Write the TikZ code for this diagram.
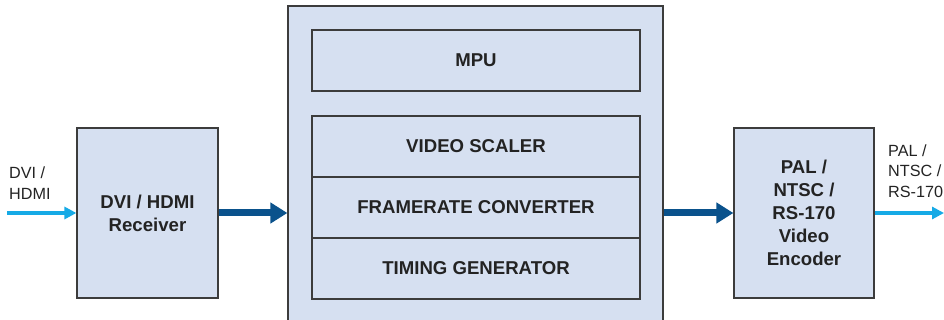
\documentclass[tikz,border=0pt]{standalone}
\usepackage{fontspec}
\setmainfont{Liberation Sans}
\usetikzlibrary{arrows.meta}

\definecolor{boxfill}{RGB}{214,224,241}
\definecolor{boxline}{RGB}{60,60,60}
\definecolor{darkarrow}{RGB}{10,82,140}
\definecolor{lightarrow}{RGB}{22,170,230}
\definecolor{txt}{RGB}{35,35,35}

\tikzset{
  blk/.style={draw=boxline, line width=1.2pt, fill=boxfill, inner sep=0pt,
    align=center, text=txt, font=\fontsize{18.6}{23}\selectfont\bfseries},
  sidelabel/.style={align=left, text=txt, inner sep=0pt,
    font=\fontsize{16.2}{20.5}\selectfont},
  darrow/.style={draw=darkarrow, line width=7pt,
    -{Triangle[length=17pt,width=20pt]}},
  larrow/.style={draw=lightarrow, line width=4pt,
    -{Triangle[length=12pt,width=12pt]}}
}

\begin{document}
\begin{tikzpicture}[x=1pt, y=-1pt]
		\useasboundingbox (0,0) rectangle (944,320);
		% outer processor box
		\node[blk, minimum width=375pt, minimum height=334pt] (mcu) at (475.5,173) {};
		\node[blk, minimum width=328pt, minimum height=61pt] (mpu) at (476,60.5) {MPU};
		\node[blk, minimum width=328pt, minimum height=61pt] (vs) at (476,146.5) {VIDEO SCALER};
		\node[blk, minimum width=328pt, minimum height=61pt] (fc) at (476,207.5) {FRAMERATE CONVERTER};
		\node[blk, minimum width=328pt, minimum height=61pt] (tg) at (476,268.5) {TIMING GENERATOR};
		% side blocks
		\node[blk, minimum width=141pt, minimum height=170pt] (rx) at (147.5,213) {DVI / HDMI\\Receiver};
		\node[blk, minimum width=140pt, minimum height=170pt] (enc) at (804,213)
			{PAL /\\NTSC /\\RS-170\\Video\\Encoder};
		% in and out
		\coordinate (in) at (7,213);
		\coordinate (out) at (944,213);
		\node[sidelabel, anchor=west] (inlab) at (9,183) {DVI /\\HDMI};
		\node[sidelabel, anchor=west] (outlab) at (888,171) {PAL /\\NTSC /\\RS-170};
		\draw[larrow] (in) -- (rx.west);
		\draw[larrow] (enc.east) -- (out);
		\draw[darrow] (rx.east) -- (rx.east -| mcu.west);
		\draw[darrow] (enc.west -| mcu.east) -- (enc.west);
\end{tikzpicture}
\end{document}
